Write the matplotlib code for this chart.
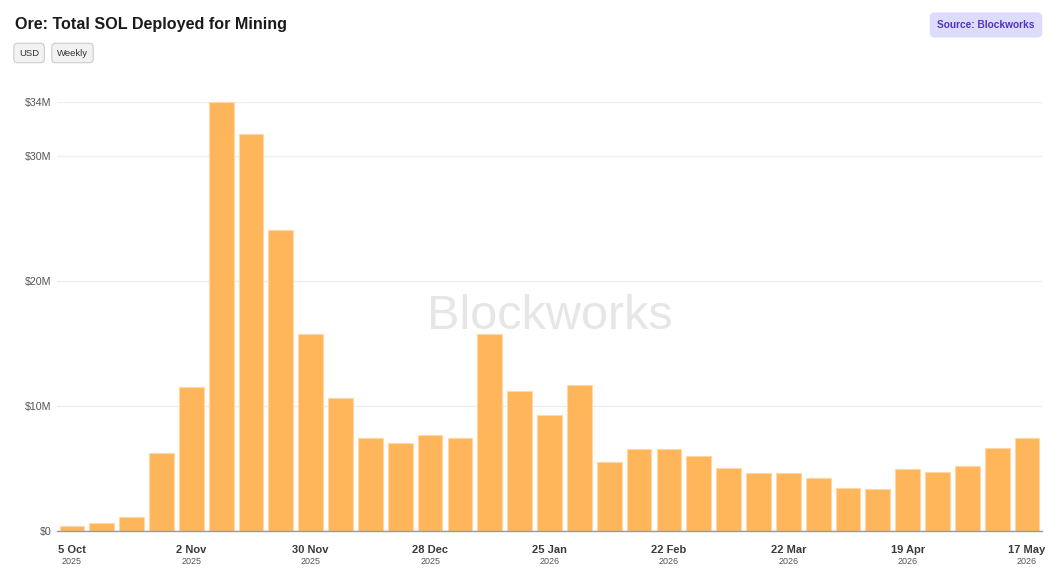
import matplotlib.pyplot as plt

plt.rcParams["font.family"] = ["Liberation Sans", "DejaVu Sans"]

# Weekly total SOL deployed (USD, millions), week starting dates
weeks = [
    "5 Oct", "12 Oct", "19 Oct", "26 Oct", "2 Nov", "9 Nov", "16 Nov", "23 Nov",
    "30 Nov", "7 Dec", "14 Dec", "21 Dec", "28 Dec", "4 Jan", "11 Jan", "18 Jan",
    "25 Jan", "1 Feb", "8 Feb", "15 Feb", "22 Feb", "1 Mar", "8 Mar", "15 Mar",
    "22 Mar", "29 Mar", "5 Apr", "12 Apr", "19 Apr", "26 Apr", "3 May", "10 May",
    "17 May",
]
years = ["2025"] * 13 + ["2026"] * 20
values = [
    0.42, 0.64, 1.17, 6.3, 11.55, 34.35, 31.8, 24.1,
    15.76, 10.65, 7.5, 7.1, 7.7, 7.5, 15.76, 11.2,
    9.3, 11.7, 5.57, 6.6, 6.6, 6.0, 5.04, 4.66,
    4.7, 4.3, 3.48, 3.39, 4.98, 4.74, 5.2, 6.64,
    7.5,
]

W, H = 1060, 583
fig = plt.figure(figsize=(W / 100, H / 100), dpi=100)
fig.patch.set_facecolor("white")

# axes placed in pixel terms
left, right, top, bottom = 57, 1042, 101.7, 531.3
ax = fig.add_axes([left / W, (H - bottom) / H, (right - left) / W, (bottom - top) / H])

x = list(range(len(values)))
ax.bar(x, values, width=0.83, color="#FFB55A", edgecolor="#FFD8A6", linewidth=0.8, zorder=3)

ymax = max(values)
ax.set_xlim(-0.5, len(values) - 0.5)
ax.set_ylim(0, ymax)

yt = [0, 10, 20, 30, ymax]
ax.set_yticks(yt)
ax.set_yticklabels(["$0" if v == 0 else f"${v:.0f}M" for v in yt], fontsize=7.7, color="#555555")
ax.yaxis.grid(True, color="#EEEEEE", linewidth=1, zorder=0)
ax.tick_params(axis="y", length=0, pad=4)

xt = x[::4]
ax.set_xticks(xt)
ax.set_xticklabels([])
ax.tick_params(axis="x", length=0)
for i in xt:
    ax.text(i, -0.031, weeks[i], transform=ax.get_xaxis_transform(), ha="center", va="top",
            fontsize=8, fontweight="bold", color="#3a3a3a")
    ax.text(i, -0.060, years[i], transform=ax.get_xaxis_transform(), ha="center", va="top",
            fontsize=6.5, color="#555555")

for s in ["top", "right", "left"]:
    ax.spines[s].set_visible(False)
ax.spines["bottom"].set_color("#999999")
ax.spines["bottom"].set_linewidth(1)
ax.spines["bottom"].set_zorder(4)

# watermark
ax.text(0.5, 0.50, "Blockworks", transform=ax.transAxes, ha="center", va="center",
        fontsize=35, color="#E6E6E6", zorder=1)

# title and controls
fig.text(15 / W, 1 - 25 / H, "Ore: Total SOL Deployed for Mining", ha="left", va="center",
         fontsize=11.6, fontweight="bold", color="#1a1a1a")
btn = dict(boxstyle="round,pad=0.55,rounding_size=0.4", facecolor="#F2F2F2", edgecolor="#CCCCCC", linewidth=0.8)
fig.text(19 / W, 1 - 53 / H, "USD", ha="left", va="center", fontsize=6.8, color="#333333", bbox=btn)
fig.text(57 / W, 1 - 53 / H, "Weekly", ha="left", va="center", fontsize=6.8, color="#333333", bbox=btn)
fig.text(986 / W, 1 - 25 / H, "Source: Blockworks", ha="center", va="center", fontsize=7.3,
         fontweight="bold", color="#5034C4",
         bbox=dict(boxstyle="round,pad=0.75,rounding_size=0.5", facecolor="#DDDCFF", edgecolor="none"))

fig.savefig("out.png", dpi=100, facecolor="white")
